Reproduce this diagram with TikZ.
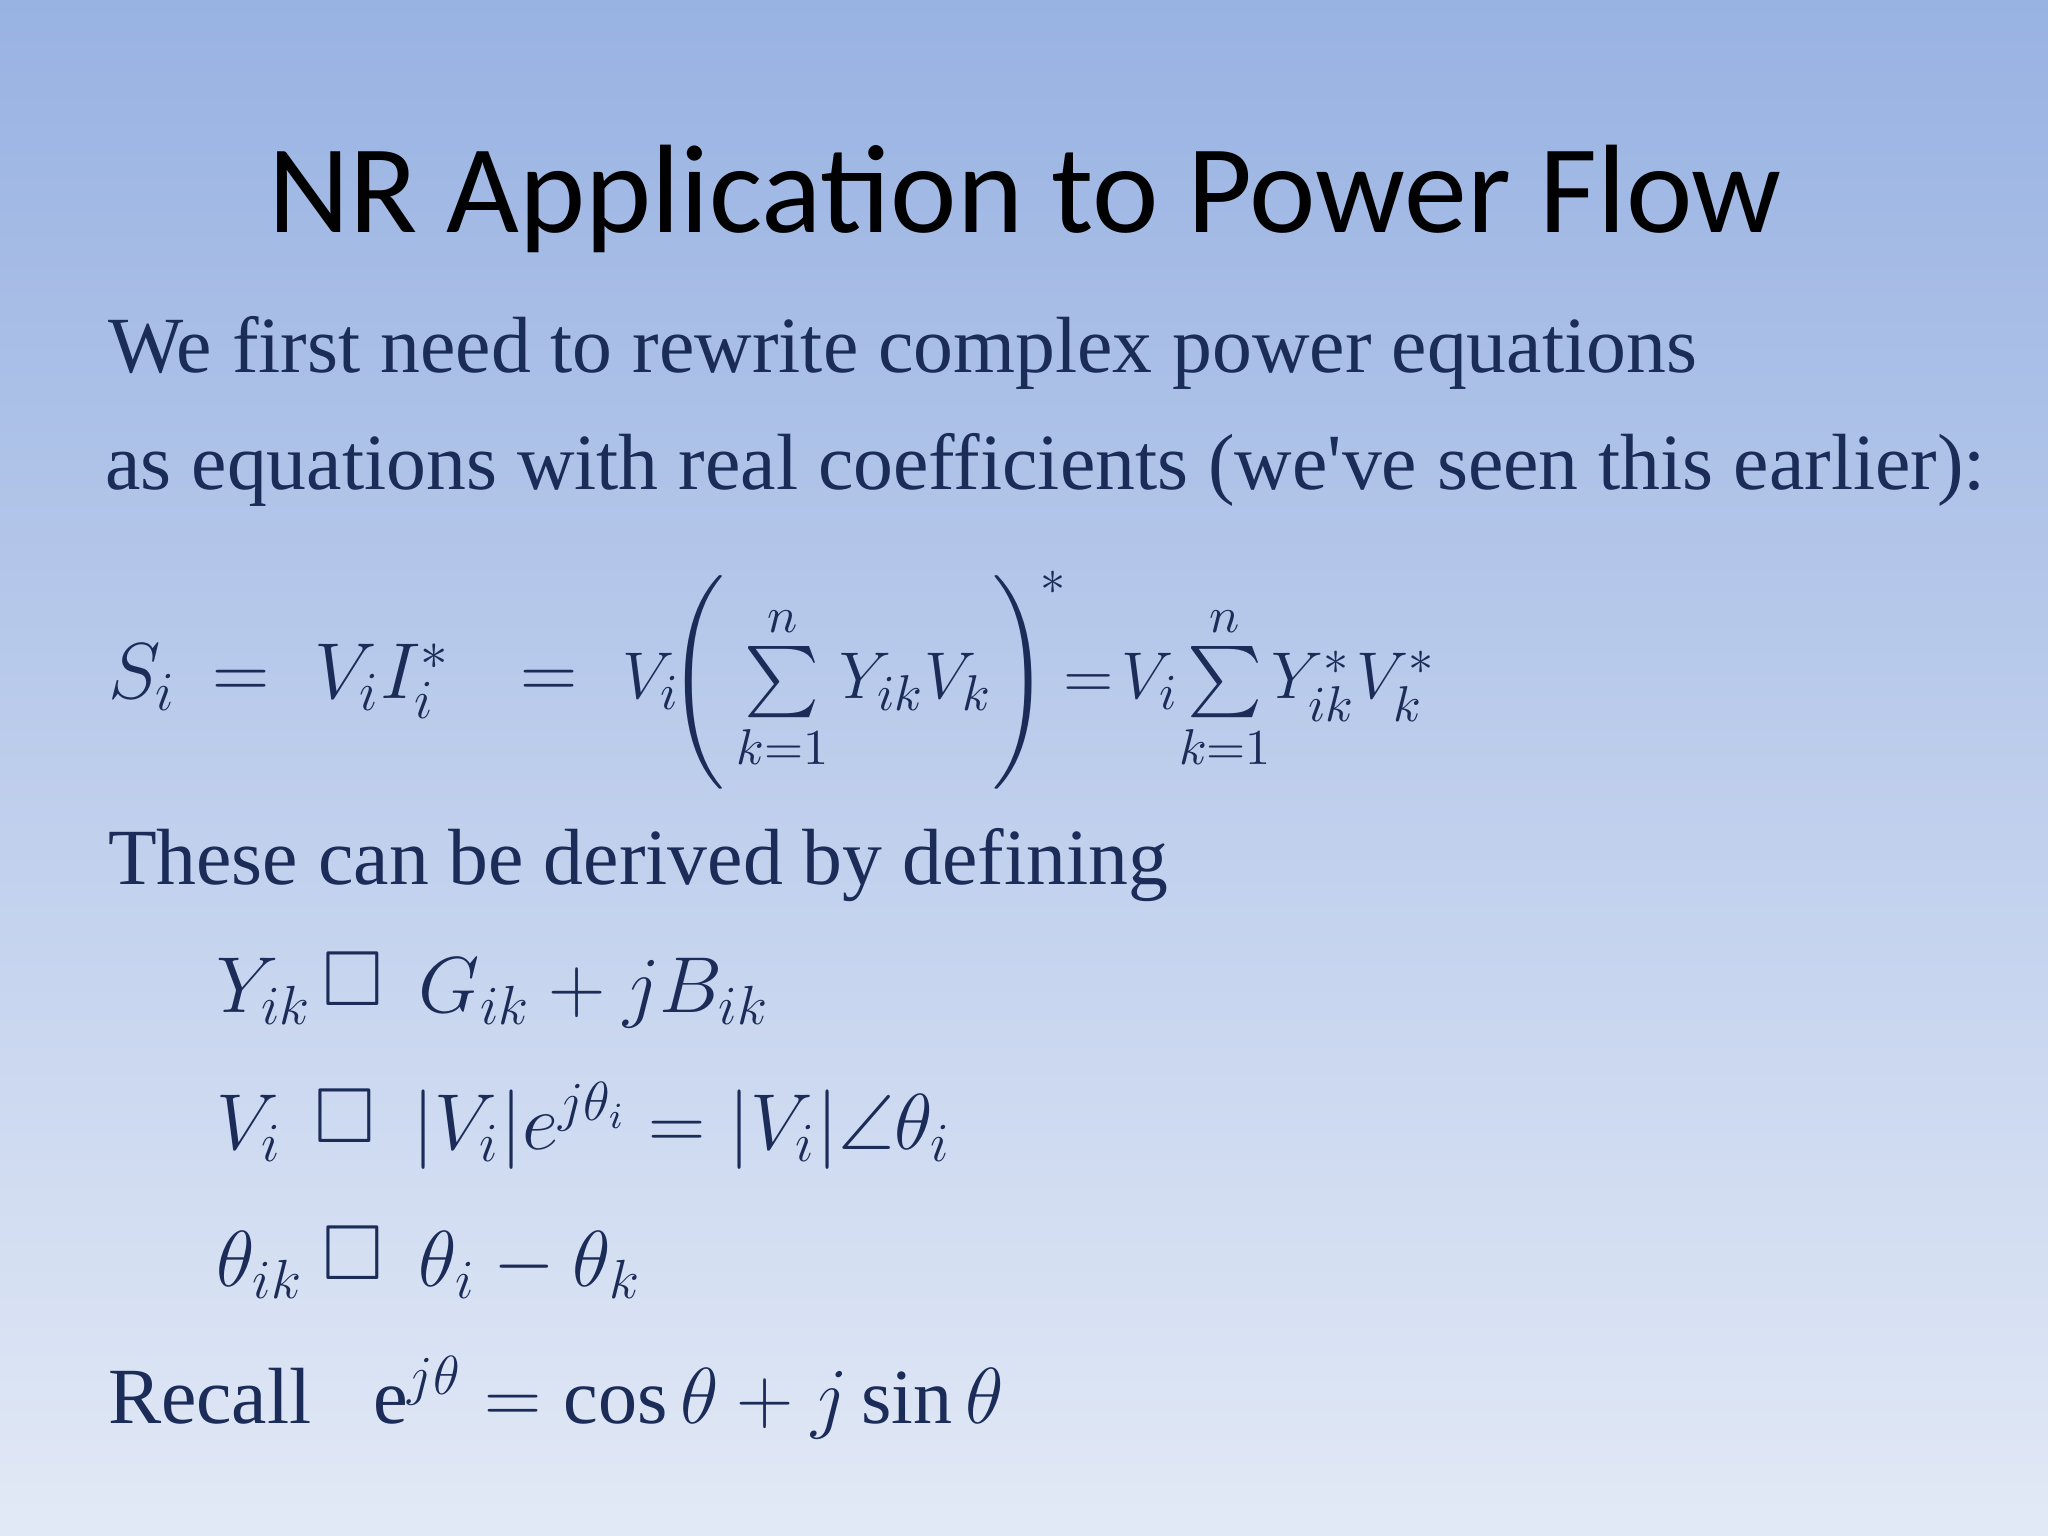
\documentclass[tikz,border=0pt]{standalone}
\usepackage{fontspec}
\usepackage{amsmath,amssymb}
\setmainfont{Liberation Serif}
\newfontfamily\titlefont{Carlito}
\definecolor{navy}{RGB}{28,44,88}
\definecolor{bgtop}{RGB}{152,178,226}
\definecolor{bgbot}{RGB}{226,233,246}
\tikzset{
  body/.style={anchor=base west,inner sep=0pt,text=navy,font=\fontsize{17.35}{21}\selectfont},
  eqn/.style={anchor=base west,inner sep=0pt,text=navy,font=\fontsize{17}{21}\selectfont},
}
\begin{document}
\begin{tikzpicture}[x=0.01cm,y=-0.01cm]
\shade[top color=bgtop,bottom color=bgbot] (0,0) rectangle (1568,1176);
\useasboundingbox (0,0) rectangle (1568,1176);
\node[anchor=base,inner sep=0pt,font=\titlefont\fontsize{27.4}{30}\selectfont] (title) at (785,178) {NR Application to Power Flow};
\node[body] (l1) at (82,285) {We first need to rewrite complex power equations};
\node[body] (l2) at (80,375) {as equations with real coefficients (we\textquotesingle ve seen this earlier):};
\node[eqn] (s) at (82,535) {$S_i$};
\node[eqn] (e1) at (162,535) {$=$};
\node[eqn] (vi) at (240,535) {$V_iI_i^*$};
\node[eqn] (e2) at (398,535) {$=$};
\node[eqn,font=\fontsize{15.5}{20}\selectfont] (rhs) at (476,535) {$V_i\!\Bigg(\sum\limits_{k=1}^{n}Y_{ik}V_k\Bigg)^{\!*}\!\!=\!V_i\!\sum\limits_{k=1}^{n}\!Y_{ik}^*V_k^*$};
\node[body] (l3) at (82,677) {These can be derived by defining};
\node[eqn] (d1a) at (165,775) {$Y_{ik}$};
\node[eqn] (d1b) at (246,770) {$\square$};
\node[eqn] (d1c) at (320,775) {$G_{ik}+jB_{ik}$};
\node[eqn] (d2a) at (165,880) {$V_i$};
\node[eqn] (d2b) at (240,875) {$\square$};
\node[eqn] (d2c) at (315,880) {$\lvert V_i\rvert e^{j\theta_i}=\lvert V_i\rvert\angle\theta_i$};
\node[eqn] (d3a) at (165,985) {$\theta_{ik}$};
\node[eqn] (d3b) at (246,980) {$\square$};
\node[eqn] (d3c) at (320,985) {$\theta_i-\theta_k$};
\node[body] (rec) at (82,1090) {Recall};
\node[eqn] (rece) at (285,1090) {$\mathrm{e}^{j\theta}=\cos\theta+j\sin\theta$};
\end{tikzpicture}
\end{document}
